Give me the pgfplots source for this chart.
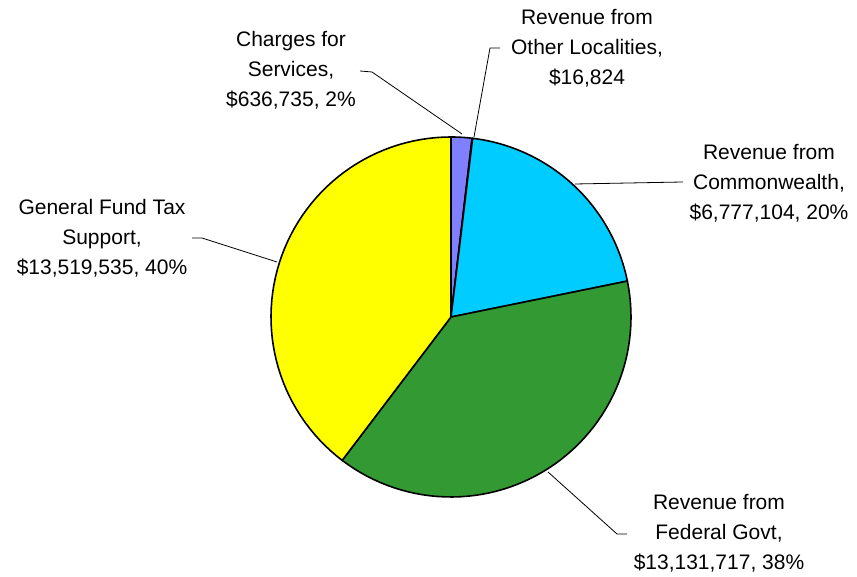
\documentclass[border=0pt]{standalone}
\usepackage{fontspec}
\setmainfont{Liberation Sans}
\usepackage{pgfplots}
\pgfplotsset{compat=1.18}
\definecolor{cblue}{HTML}{8080FF}
\definecolor{ccyan}{HTML}{00CCFF}
\definecolor{cgreen}{HTML}{339933}
\definecolor{cyellow}{HTML}{FFFF00}
% data values
\def\vA{636735}   % Charges for Services
\def\vB{16824}    % Revenue from Other Localities
\def\vC{6777104}  % Revenue from Commonwealth
\def\vD{13131717} % Revenue from Federal Govt
\def\vE{13519535} % General Fund Tax Support
\edef\tot{\fpeval{\vA+\vB+\vC+\vD+\vE}}
\edef\aA{\fpeval{90-360*\vA/\tot}}
\edef\aB{\fpeval{\aA-360*\vB/\tot}}
\edef\aC{\fpeval{\aB-360*\vC/\tot}}
\edef\aD{\fpeval{\aC-360*\vD/\tot}}
\edef\aE{\fpeval{\aD-360*\vE/\tot}}
\begin{document}
\begin{tikzpicture}
\begin{axis}[
  hide axis, scale only axis, width=857pt, height=577pt,
  xmin=0, xmax=857, ymin=0, ymax=577, clip=false,
  every axis plot/.append style={line join=round},
]
\pgfplotsset{sector/.style={draw=black, line width=1.6pt, samples=60, variable=\t}}
\addplot[sector, fill=cblue, domain=\aA:90] ({451+180*cos(\t)},{260+180*sin(\t)}) -- (451,260) -- cycle;
\addplot[sector, fill=white, domain=\aB:\aA, samples=3] ({451+180*cos(\t)},{260+180*sin(\t)}) -- (451,260) -- cycle;
\addplot[sector, fill=ccyan, domain=\aC:\aB] ({451+180*cos(\t)},{260+180*sin(\t)}) -- (451,260) -- cycle;
\addplot[sector, fill=cgreen, domain=\aD:\aC] ({451+180*cos(\t)},{260+180*sin(\t)}) -- (451,260) -- cycle;
\addplot[sector, fill=cyellow, domain=\aE:\aD] ({451+180*cos(\t)},{260+180*sin(\t)}) -- (451,260) -- cycle;
% leader lines
\addplot[black, line width=0.8pt] coordinates {(360,506) (372,505) (462,443)};
\addplot[black, line width=0.8pt] coordinates {(500,529) (490,529) (474,440)};
\addplot[black, line width=0.8pt] coordinates {(575,393) (683,395)};
\addplot[black, line width=0.8pt] coordinates {(548,105) (617,43) (627,43)};
\addplot[black, line width=0.8pt] coordinates {(192,339) (202,339) (277,315)};
% labels
\begin{scope}[every node/.style={align=center, inner sep=0pt, font=\fontsize{21}{30}\selectfont}]
\node at (axis cs:291,507) {Charges for\\Services,\\\$636,735, 2\%};
\node at (axis cs:587,529) {Revenue from\\Other Localities,\\\$16,824};
\node at (axis cs:769,394) {Revenue from\\Commonwealth,\\\$6,777,104, 20\%};
\node at (axis cs:719,44) {Revenue from\\Federal Govt,\\\$13,131,717, 38\%};
\node at (axis cs:102,339) {General Fund Tax\\Support,\\\$13,519,535, 40\%};
\end{scope}
\end{axis}
\pgfresetboundingbox
\path (current axis.south west) rectangle (current axis.north east);
\end{tikzpicture}
\end{document}
